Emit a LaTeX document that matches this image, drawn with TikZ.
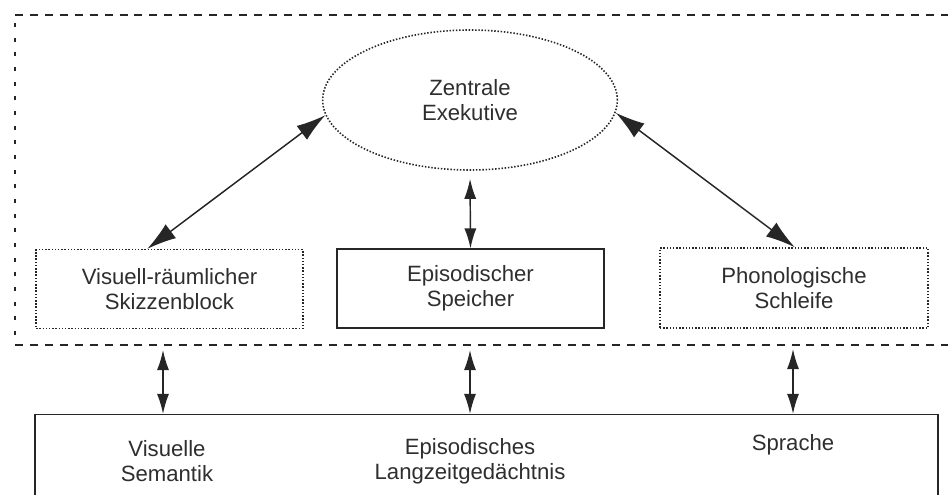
\documentclass[tikz,border=0pt]{standalone}
\usepackage{fontspec}
\setmainfont{Liberation Sans}
\usetikzlibrary{shapes.geometric,arrows.meta}
\definecolor{ink}{HTML}{262626}
\definecolor{txt}{HTML}{2E2E2E}
\tikzset{
  lbl/.style={align=center,text=txt,font=\fontsize{16.6}{18.8}\selectfont},
  dotted box/.style={draw=ink,line width=1.2pt,dash pattern=on 1.1pt off 1.3pt},
  dotbox/.style={lbl,dotted box,minimum width=200pt,minimum height=59pt,inner sep=0pt},
  solidbox/.style={lbl,draw=ink,line width=1.1pt,minimum width=200pt,minimum height=59pt,inner sep=0pt},
  outerdash/.style={draw=ink,line width=1.2pt,dash pattern=on 6pt off 5.2pt},
  outerdashv/.style={draw=ink,line width=1.2pt,dash pattern=on 3pt off 8pt},
  bigarrow/.style={ink,line width=1.1pt,{Latex[length=22pt,width=13pt]}-{Latex[length=22pt,width=13pt]}},
  smallarrow/.style={ink,line width=1.1pt,{Latex[length=15pt,width=9pt]}-{Latex[length=15pt,width=9pt]}}
}
\begin{document}
\begin{tikzpicture}[x=0.75pt,y=-0.75pt]
\useasboundingbox (0,0) rectangle (948,494);
\clip (0,0) rectangle (948,494);
% outer dashed region
\draw[outerdashv] (15,335) -- (15,15);
\draw[outerdash] (15,15) -- (948,15);
\draw[outerdash] (15,345) -- (948,345);
% central executive
\node[ellipse,dotted box,minimum width=221pt,minimum height=105pt,inner sep=0pt,lbl] (ell) at (470,100) {Zentrale\\Exekutive};
% slave systems
\node[dotbox] (lbox) at (169.5,289) {Visuell-räumlicher\\Skizzenblock};
\node[solidbox] (mbox) at (470.5,288.5) {Episodischer\\Speicher};
\node[dotbox,minimum width=201pt,minimum height=60pt] (rbox) at (794,288) {Phonologische\\Schleife};
% long-term memory box
\node[draw=ink,line width=1.1pt,minimum width=677pt,minimum height=83pt,inner sep=0pt] (bot) at (486.5,470) {};
\node[lbl] (vsem) at (167,461) {Visuelle\\Semantik};
\node[lbl] (elzg) at (470,461) {Episodisches\\Langzeitgedächtnis};
\node[lbl] (spr) at (793,445) {Sprache};
% arrows to central executive
\draw[bigarrow] (lbox.119) -- (ell.186);
\draw[bigarrow] (rbox.89) -- (ell.355);
\draw[smallarrow,shorten <=6pt] (ell.south) -- (mbox.north);
% arrows to long-term memory
\coordinate (c1) at (163,350);
\coordinate (c2) at (470,350);
\coordinate (c3) at (793,349);
\draw[smallarrow] (c1) -- (c1 |- bot.north);
\draw[smallarrow] (c2) -- (c2 |- bot.north);
\draw[smallarrow] (c3) -- (c3 |- bot.north);
\end{tikzpicture}
\end{document}
